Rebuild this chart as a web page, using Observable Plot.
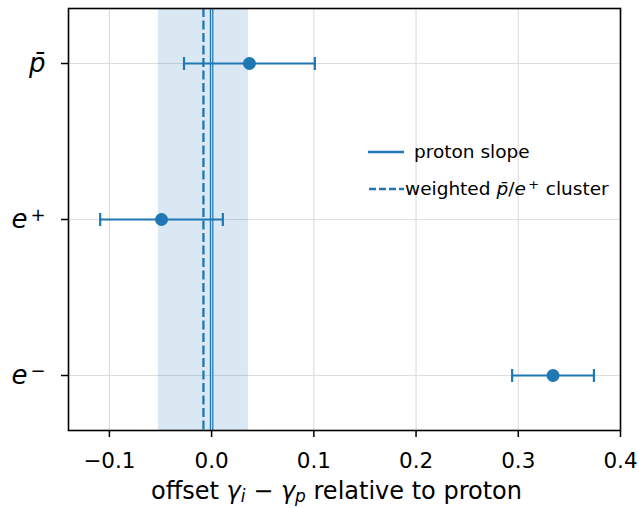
<!DOCTYPE html>
<html>
<head>
<meta charset="utf-8">
<script src="https://cdn.jsdelivr.net/npm/d3@7"></script>
<script src="https://cdn.jsdelivr.net/npm/@observablehq/plot@0.6"></script>
<style>
  html, body { margin: 0; padding: 0; background: white; }
  #chart { position: relative; width: 639px; height: 508px; }
</style>
</head>
<body>
<div id="chart"></div>
<script>
// ---- data ----
const species = ["pbar", "eplus", "eminus"];
const offsets = [0.037, -0.049, 0.334];
const errors = [0.064, 0.060, 0.040];
const protonSlope = [0];
const clusterMean = [-0.008];
const clusterErr = [0.044];
const xTicks = [-0.1, 0.0, 0.1, 0.2, 0.3, 0.4];
const legendLabels = ["proton slope", "weighted p̄/e⁺ cluster"];

const rows = species.map((s, i) => ({species: s, offset: offsets[i], err: errors[i]}));
const band = clusterMean.map((m, i) => ({lo: m - clusterErr[i], hi: m + clusterErr[i]}));

const blue = "#1f77b4";
const gridColor = "#dedede";

// vertical cap symbol for error bars
const capSymbol = {draw(context, size) { const h = 6.5; context.moveTo(0, -h); context.lineTo(0, h); }};

const chart = Plot.plot({
  width: 639,
  height: 508,
  marginLeft: 68,
  marginRight: 19,
  marginTop: 8,
  marginBottom: 78,
  style: {fontFamily: "DejaVu Sans", fontSize: "22px", color: "black", background: "white", overflow: "visible"},
  x: {domain: [-0.14, 0.4]},
  y: {type: "point", domain: species, padding: 0.35},
  marks: [
    Plot.gridX(xTicks, {stroke: gridColor, strokeOpacity: 1, strokeWidth: 1.2}),
    Plot.gridY(species, {stroke: gridColor, strokeOpacity: 1, strokeWidth: 1.2}),
    Plot.rect(band, {x1: "lo", x2: "hi", fill: blue, fillOpacity: 0.17}),
    Plot.ruleX(protonSlope, {stroke: blue, strokeWidth: 3.6}),
    Plot.ruleX(protonSlope, {stroke: "#c4d3e0", strokeWidth: 1.2}),
    Plot.ruleX(clusterMean, {stroke: blue, strokeWidth: 2.3, strokeDasharray: "9,3.5"}),
    Plot.ruleY(rows, {y: "species", x1: d => d.offset - d.err, x2: d => d.offset + d.err, stroke: blue, strokeWidth: 2.2}),
    Plot.dot(rows, {x: d => d.offset - d.err, y: "species", symbol: capSymbol, r: 5, stroke: blue, strokeWidth: 2.2, fill: "none"}),
    Plot.dot(rows, {x: d => d.offset + d.err, y: "species", symbol: capSymbol, r: 5, stroke: blue, strokeWidth: 2.2, fill: "none"}),
    Plot.dot(rows, {x: "offset", y: "species", r: 6.5, fill: blue, stroke: "none"}),
    Plot.axisX(xTicks, {tickSize: 7, tickPadding: 15, strokeWidth: 1.5, fontSize: 21.5,
      tickFormat: d => d.toFixed(1).replace("-", "\u2212"),
      label: "offset", labelAnchor: "center", labelArrow: "none", labelOffset: 68}),
    Plot.axisY(species, {tickSize: 7, tickPadding: 16, strokeWidth: 1.5, fontSize: 26, label: null,
      tickFormat: d => d}),
    Plot.frame({stroke: "black", strokeWidth: 1.6})
  ]
});

document.getElementById("chart").appendChild(chart);
const svg = d3.select(chart);

// math-style y tick labels
svg.selectAll('g[aria-label="y-axis tick label"] text').each(function() {
  const t = d3.select(this);
  const key = t.text();
  t.text("");
  if (key === "pbar") {
    t.append("tspan").attr("font-style", "italic").text("p\u0304");
  } else {
    t.append("tspan").attr("font-style", "italic").text("e");
    t.append("tspan").attr("dx", "3").style("font-size", "18px").attr("baseline-shift", "7px")
      .text(key === "eplus" ? "+" : "\u2212");
  }
});

// math-style x label
svg.selectAll('g[aria-label="x-axis label"] text').each(function() {
  const t = d3.select(this);
  t.text("");
  t.style("font-size", "24px");
  t.attr("dx", -8);
  t.append("tspan").text("offset ");
  t.append("tspan").attr("font-style", "italic").text("γ");
  t.append("tspan").attr("font-style", "italic").style("font-size", "17px").attr("baseline-shift", "-20%").text("i");
  t.append("tspan").text(" \u2212 ");
  t.append("tspan").attr("font-style", "italic").text("γ");
  t.append("tspan").attr("font-style", "italic").style("font-size", "17px").attr("baseline-shift", "-20%").text("p");
  t.append("tspan").text(" relative to proton");
});

// legend (inside the plot area)
const lg = svg.append("g").attr("font-family", "DejaVu Sans").style("font-size", "18.5px").attr("text-anchor", "start");
lg.append("line").attr("x1", 368).attr("x2", 404).attr("y1", 152).attr("y2", 152)
  .attr("stroke", blue).attr("stroke-width", 2.3);
lg.append("text").attr("x", 414).attr("y", 152).attr("dy", "0.35em").text(legendLabels[0]);
lg.append("line").attr("x1", 369).attr("x2", 404).attr("y1", 189).attr("y2", 189)
  .attr("stroke", blue).attr("stroke-width", 2.3).attr("stroke-dasharray", "7,3");
const t2 = lg.append("text").attr("x", 405).attr("y", 189).attr("dy", "0.35em");
t2.append("tspan").text("weighted ");
t2.append("tspan").attr("font-style", "italic").text("p\u0304");
t2.append("tspan").text("/");
t2.append("tspan").attr("font-style", "italic").text("e");
t2.append("tspan").style("font-size", "13px").attr("dx", "0.2em").attr("baseline-shift", "45%").text("+");
t2.append("tspan").attr("dx", "0.35em").text("cluster");
</script>
</body>
</html>
